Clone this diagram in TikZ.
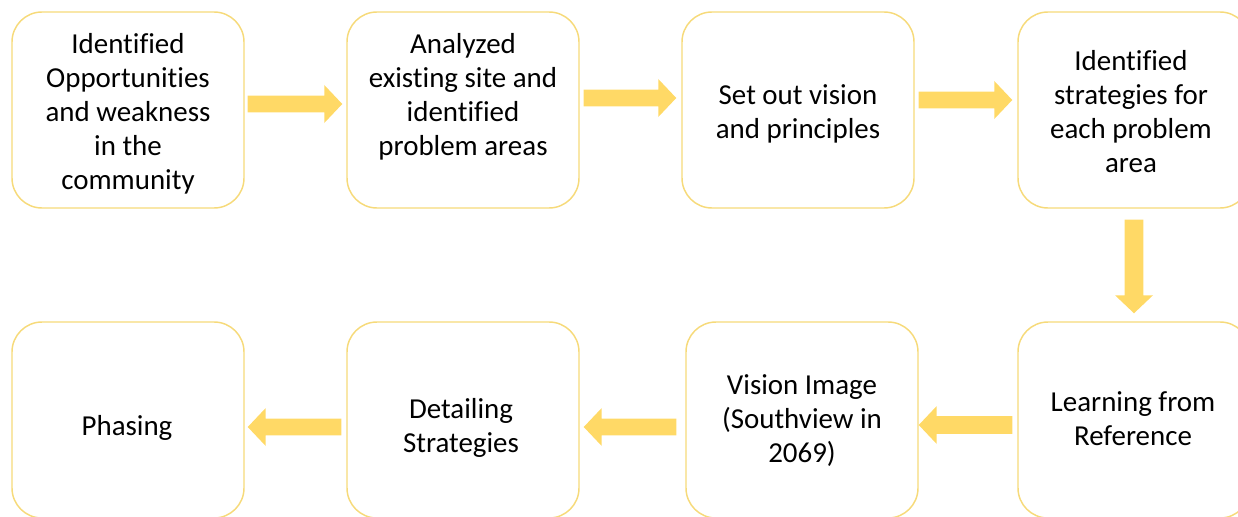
\documentclass[tikz,border=0pt]{standalone}
\usepackage{fontspec}
\setmainfont{Carlito}[Ligatures=NoCommon]
\usetikzlibrary{calc}
\definecolor{boxline}{RGB}{246,218,122}
\definecolor{arrowfill}{RGB}{255,217,102}
\tikzset{
  stepbox/.style={draw=boxline, line width=1.1pt, rounded corners=22.5pt,
    minimum width=174pt, minimum height=147pt, inner sep=0pt},
  lbl/.style={align=center, font=\fontsize{21.7}{25.5}\selectfont, inner sep=0pt},
  blockarrow/.style={fill=arrowfill, draw=none, to path={
    ($(\tikztostart)!#1!90:(\tikztotarget)$)
    -- ($(\tikztotarget)!13.5pt!(\tikztostart)!#1!90:(\tikztotarget)$)
    -- ($(\tikztotarget)!13.5pt!(\tikztostart)!14.25pt!90:(\tikztotarget)$)
    -- (\tikztotarget)
    -- ($(\tikztotarget)!13.5pt!(\tikztostart)!14.25pt!-90:(\tikztotarget)$)
    -- ($(\tikztotarget)!13.5pt!(\tikztostart)!#1!-90:(\tikztotarget)$)
    -- ($(\tikztostart)!#1!-90:(\tikztotarget)$) -- cycle}},
  blockarrow/.default=6.2pt
}
\begin{document}
\begin{tikzpicture}[x=0.75pt,y=-0.75pt]
\useasboundingbox (0,0) rectangle (1238,517);
\clip (0,0) rectangle (1238,517);
% boxes
\node[stepbox] (b1) at (128,110) {};
\node[stepbox] (b2) at (463,110) {};
\node[stepbox] (b3) at (798,110) {};
\node[stepbox] (b4) at (1134,110) {};
\node[stepbox] (b5) at (128,420) {};
\node[stepbox] (b6) at (463,420) {};
\node[stepbox] (b7) at (802,420) {};
\node[stepbox] (b8) at (1134,420) {};
% texts
\node[lbl] (t1) at (128,113.5) {Identified\\Opportunities\\and weakness\\in the\\community};
\node[lbl] (t2) at (463,96.5) {Analyzed\\existing site and\\identified\\problem areas};
\node[lbl] (t3) at (798,113.5) {Set out vision\\and principles};
\node[lbl] (t4) at (1131,111.5) {Identified\\strategies for\\each problem\\area};
\node[lbl] (t5) at (127,427.5) {Phasing};
\node[lbl] (t6) at (461,427.5) {Detailing\\Strategies};
\node[lbl] (t7) at (802,420.5) {Vision Image\\(Southview in\\2069)};
\node[lbl] (t8) at (1133,418.5) {Learning from\\Reference};
% arrow end points
\coordinate (a1s) at ($(b1.east)+(3,-6)$);
\coordinate (a1e) at ($(b2.west)+(-4,-6)$);
\coordinate (a2s) at ($(b2.east)+(4,-12)$);
\coordinate (a2e) at ($(b3.west)+(-5,-12)$);
\coordinate (a3s) at ($(b3.east)+(4,-10)$);
\coordinate (a3e) at ($(b4.west)+(-5,-10)$);
\coordinate (a4s) at ($(b4.south)+(0,11)$);
\coordinate (a4e) at ($(b8.north)+(0,-8)$);
\coordinate (a5s) at ($(b8.west)+(-5,5)$);
\coordinate (a5e) at ($(b7.east)+(0,5)$);
\coordinate (a6s) at ($(b7.west)+(-9,7)$);
\coordinate (a6e) at ($(b6.east)+(4,7)$);
\coordinate (a7s) at ($(b6.west)+(-5,7)$);
\coordinate (a7e) at ($(b5.east)+(3,7)$);
% arrows
\path[blockarrow] (a1s) to (a1e);
\path[blockarrow] (a2s) to (a2e);
\path[blockarrow] (a3s) to (a3e);
\path[blockarrow=7.1pt] (a4s) to (a4e);
\path[blockarrow=6.7pt] (a5s) to (a5e);
\path[blockarrow] (a6s) to (a6e);
\path[blockarrow] (a7s) to (a7e);
\end{tikzpicture}
\end{document}
